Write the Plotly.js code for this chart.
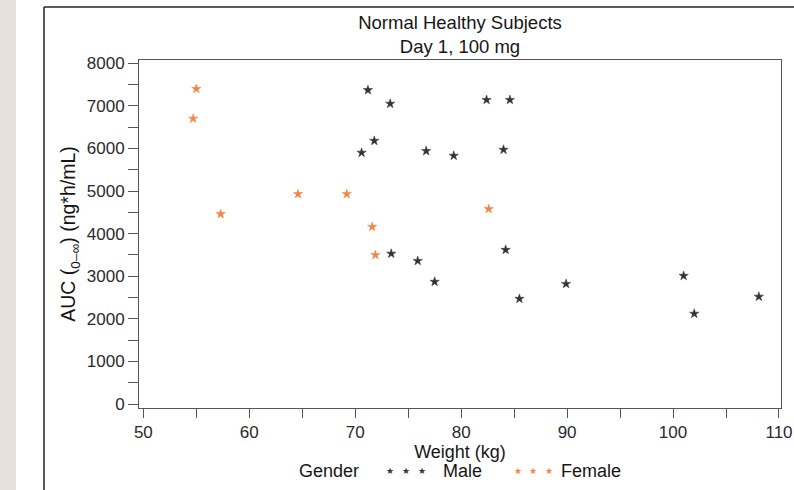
<!DOCTYPE html>
<html>
<head>
<meta charset="utf-8">
<script src="https://cdn.plot.ly/plotly-3.0.1.min.js"></script>
<style>html,body{margin:0;padding:0;background:#fff;}#chart{width:794px;height:490px;}</style>
</head>
<body>
<div id="chart"></div>
<script>
// Data
const maleWeight = [71.2, 73.3, 71.8, 70.6, 76.7, 79.3, 82.4, 84.6, 84.0, 73.4, 75.9, 77.5, 84.2, 85.5, 89.9, 101.0, 102.0, 108.1];
const maleAUC    = [7370, 7050, 6180, 5900, 5940, 5830, 7140, 7140, 5970, 3530, 3360, 2870, 3620, 2470, 2820, 3010, 2120, 2520];
const femaleWeight = [55.0, 54.7, 57.3, 64.6, 69.2, 71.6, 71.9, 82.6];
const femaleAUC    = [7400, 6700, 4460, 4930, 4930, 4160, 3500, 4580];
const seriesNames = ['Male', 'Female'];
const legendTitle = 'Gender';
const xTickVals = [50, 60, 70, 80, 90, 100, 110];
const yTickVals = [0, 1000, 2000, 3000, 4000, 5000, 6000, 7000, 8000];

const FONT = '"Liberation Sans", Arial, Helvetica, sans-serif';
const TXT = '#161616';
const AX = '#555555';
const MALE_C = '#333333';
const FEMALE_C = '#f0874a';

// plot area pixel geometry
const L = 139, R = 13, T = 60, B = 82, W = 794, H = 490;
const pw = W - L - R, ph = H - T - B;
const px = v => (v - L) / pw;
const py = v => (H - B - v) / ph;

const traces = [
  {
    x: maleWeight, y: maleAUC, name: seriesNames[0], type: 'scatter', mode: 'markers',
    marker: {symbol: 'star', size: 7, color: MALE_C, line: {width: 0.5, color: MALE_C}},
    cliponaxis: false
  },
  {
    x: femaleWeight, y: femaleAUC, name: seriesNames[1], type: 'scatter', mode: 'markers',
    marker: {symbol: 'star', size: 7, color: FEMALE_C, line: {width: 0.5, color: FEMALE_C}},
    cliponaxis: false
  }
];

// legend drawn as text (three star glyphs per entry, as in the reference)
const starAnn = (x, color) => ({
  xref: 'paper', yref: 'paper', x: px(x), y: py(471), xanchor: 'center', yanchor: 'middle',
  text: '★', showarrow: false, font: {family: '"DejaVu Sans", sans-serif', size: 9, color: color}
});
const legendAnns = [
  {xref: 'paper', yref: 'paper', x: px(297), y: py(471), xanchor: 'left', yanchor: 'middle',
   text: legendTitle, showarrow: false, font: {family: FONT, size: 18, color: TXT}},
  starAnn(390, MALE_C), starAnn(406, MALE_C), starAnn(422, MALE_C),
  {xref: 'paper', yref: 'paper', x: px(441), y: py(471), xanchor: 'left', yanchor: 'middle',
   text: seriesNames[0], showarrow: false, font: {family: FONT, size: 18, color: TXT}},
  starAnn(518, FEMALE_C), starAnn(533, FEMALE_C), starAnn(549, FEMALE_C),
  {xref: 'paper', yref: 'paper', x: px(559), y: py(471), xanchor: 'left', yanchor: 'middle',
   text: seriesNames[1], showarrow: false, font: {family: FONT, size: 18, color: TXT}}
];

const layout = {
  width: W, height: H, autosize: false,
  margin: {l: L, r: R, t: T, b: B, pad: 0},
  paper_bgcolor: '#ffffff', plot_bgcolor: '#ffffff',
  font: {family: FONT, color: TXT, size: 17},
  title: {
    text: 'Normal Healthy Subjects<br>Day 1, 100 mg',
    font: {family: FONT, size: 18.5, color: TXT},
    x: 0.5, xref: 'paper', xanchor: 'center',
    y: 1 - 29 / H, yref: 'container', yanchor: 'top'
  },
  xaxis: {
    range: [49.59, 110.19],
    tickvals: xTickVals,
    ticks: 'outside', ticklen: 9, tickwidth: 1, tickcolor: AX,
    minor: {dtick: 5, tick0: 50, ticks: 'outside', ticklen: 9, tickwidth: 1, tickcolor: AX, showgrid: false},
    showline: true, linecolor: AX, linewidth: 1, mirror: true,
    showgrid: false, zeroline: false, automargin: false,
    tickfont: {family: FONT, size: 17, color: '#2a2a2a'},
    title: {text: 'Weight (kg)', font: {family: FONT, size: 18, color: TXT}, standoff: 2}
  },
  yaxis: {
    range: [-94, 8077],
    tickvals: yTickVals,
    ticks: 'outside', ticklen: 10, tickwidth: 1, tickcolor: AX,
    minor: {dtick: 500, tick0: 0, ticks: 'outside', ticklen: 10, tickwidth: 1, tickcolor: AX, showgrid: false},
    showline: true, linecolor: AX, linewidth: 1, mirror: true,
    showgrid: false, zeroline: false, automargin: false,
    tickfont: {family: FONT, size: 17, color: '#2a2a2a'},
    title: {text: 'AUC (<sub>0–∞</sub>) (ng*h/mL)', font: {family: FONT, size: 19.5, color: TXT}, standoff: 5}
  },
  showlegend: false,
  annotations: legendAnns,
  shapes: [
    {type: 'rect', xref: 'paper', yref: 'paper', x0: px(0), x1: px(16), y0: py(H), y1: py(0),
     fillcolor: '#e7e1dd', line: {width: 0}, layer: 'below'},
    {type: 'line', xref: 'paper', yref: 'paper', x0: px(44), x1: px(44), y0: py(7), y1: py(H),
     line: {color: '#222222', width: 1.5}},
    {type: 'line', xref: 'paper', yref: 'paper', x0: px(44), x1: px(W), y0: py(7), y1: py(7),
     line: {color: '#222222', width: 1.5}}
  ]
};

Plotly.newPlot('chart', traces, layout, {displayModeBar: false, staticPlot: true});
</script>
</body>
</html>
